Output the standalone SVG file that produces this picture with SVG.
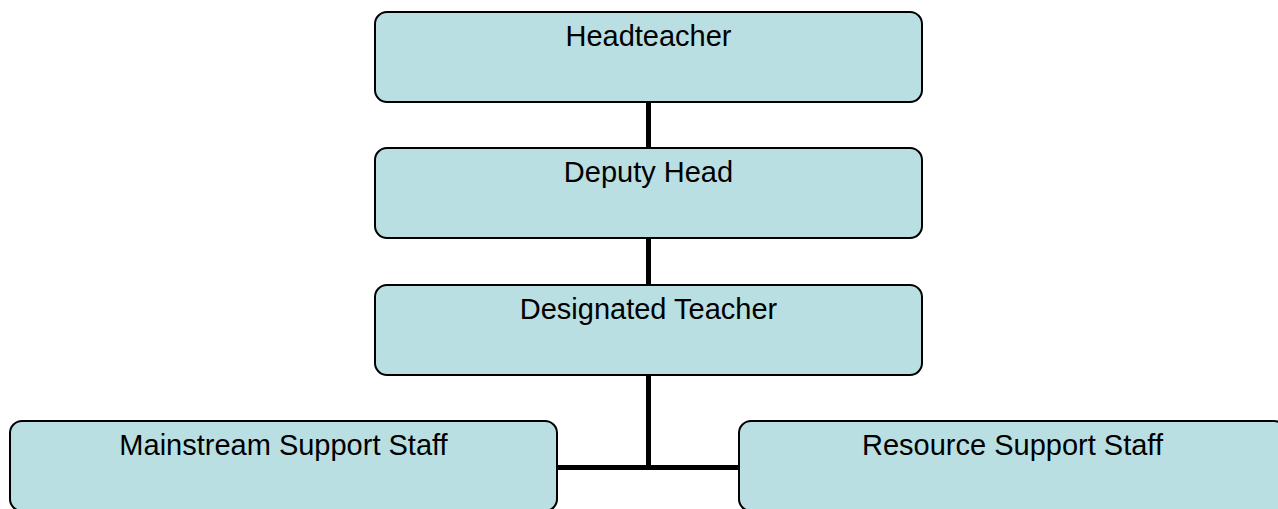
<svg xmlns="http://www.w3.org/2000/svg" width="1278" height="509" viewBox="0 0 1278 509">
  <style>
    .box { fill: #b9dfe2; stroke: #000; stroke-width: 2; }
    .label { font-family: "Liberation Sans", Arial, sans-serif; font-size: 29px; fill: #000; text-anchor: middle; }
    .link { stroke: #000; stroke-width: 5; fill: none; }
  </style>
  <rect width="1278" height="509" fill="#fff"/>

  <!-- reporting lines -->
  <g id="connectors">
    <line class="link" x1="648.5" y1="102" x2="648.5" y2="148"/>
    <line class="link" x1="648.5" y1="238" x2="648.5" y2="285"/>
    <line class="link" x1="648.5" y1="375" x2="648.5" y2="467.5"/>
    <line class="link" x1="557" y1="467.5" x2="739" y2="467.5"/>
  </g>

  <g id="headteacher">
    <rect class="box" x="375" y="12" width="547" height="90" rx="12" ry="12"/>
    <text class="label" x="648.5" y="46">Headteacher</text>
  </g>

  <g id="deputy-head">
    <rect class="box" x="375" y="148" width="547" height="90" rx="12" ry="12"/>
    <text class="label" x="648.5" y="182">Deputy Head</text>
  </g>

  <g id="designated-teacher">
    <rect class="box" x="375" y="285" width="547" height="90" rx="12" ry="12"/>
    <text class="label" x="648.5" y="319">Designated Teacher</text>
  </g>

  <g id="mainstream-support">
    <rect class="box" x="10" y="421" width="547" height="90" rx="12" ry="12"/>
    <text class="label" x="283.5" y="455">Mainstream Support Staff</text>
  </g>

  <g id="resource-support">
    <rect class="box" x="739" y="421" width="547" height="90" rx="12" ry="12"/>
    <text class="label" x="1012.5" y="455">Resource Support Staff</text>
  </g>
</svg>
